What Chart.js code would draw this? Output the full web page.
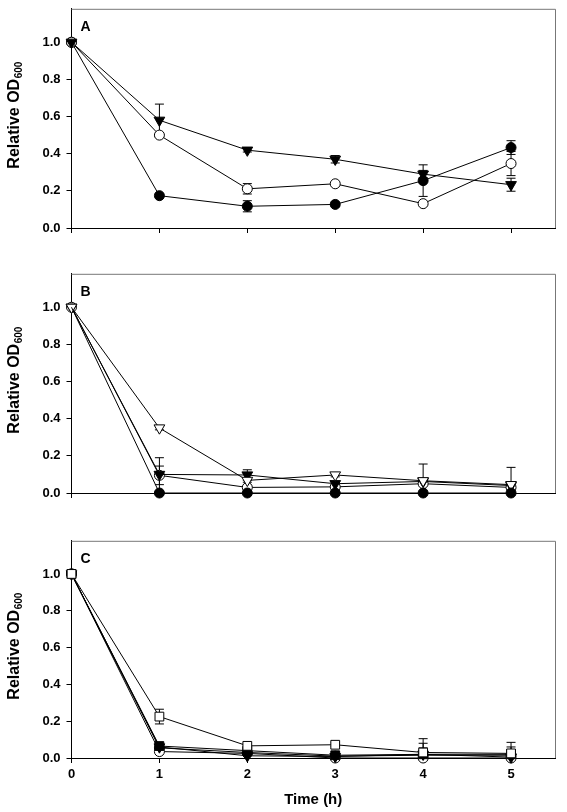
<!DOCTYPE html>
<html>
<head>
<meta charset="utf-8">
<script src="https://cdn.jsdelivr.net/npm/chart.js@4.4.0/dist/chart.umd.min.js"></script>
<style>
    html, body { margin: 0; padding: 0; background: #fff; overflow: hidden; }
    .panel { position: absolute; left: 0; width: 567px; }
</style>
</head>
<body>
<div class="panel" style="top:-5px;height:267px"><canvas id="chartA"></canvas></div>
<div class="panel" style="top:260px;height:275px"><canvas id="chartB"></canvas></div>
<div class="panel" style="top:527px;height:285px"><canvas id="chartC"></canvas></div>
<script>
// ===== DATA =====
var hours = [0, 1, 2, 3, 4, 5];
var xTicks = [0, 1, 2, 3, 4, 5];
var yTicks = [0, 0.2, 0.4, 0.6, 0.8, 1.0];

// Panel A
var aFilledCircle = [1.0, 0.174, 0.117, 0.127, 0.255, 0.433];
var aFilledCircleErr = [0, 0.01, 0.03, 0.012, 0.085, 0.037];
var aOpenCircle = [1.0, 0.50, 0.211, 0.238, 0.131, 0.347];
var aOpenCircleErr = [0, 0.01, 0.028, 0.006, 0.01, 0.065];
var aFilledTriangle = [1.0, 0.58, 0.419, 0.37, 0.29, 0.233];
var aFilledTriangleErr = [0, 0.087, 0.01, 0.02, 0.02, 0.035];

// Panel B
var bFilledCircle = [1.0, 0, 0, 0, 0, 0];
var bFilledCircleErr = [0, 0, 0, 0, 0, 0];
var bOpenCircle = [1.0, 0.095, 0.03, 0.033, 0.05, 0.03];
var bOpenCircleErr = [0, 0.05, 0.01, 0.01, 0.01, 0.01];
var bFilledTriangle = [1.0, 0.1, 0.097, 0.05, 0.062, 0.04];
var bFilledTriangleErr = [0, 0.09, 0.028, 0.01, 0.01, 0.01];
var bOpenTriangle = [1.0, 0.35, 0.068, 0.097, 0.066, 0.045];
var bOpenTriangleErr = [0, 0.01, 0.01, 0.01, 0.09, 0.093];

// Panel C
var cFilledCircle = [1.0, 0.055, 0.03, 0.01, 0.015, 0.015];
var cFilledCircleErr = [0, 0, 0, 0, 0.04, 0.03];
var cOpenCircle = [1.0, 0.035, 0.025, 0.0, 0.0, 0.0];
var cOpenCircleErr = [0, 0, 0, 0, 0, 0];
var cFilledTriangle = [1.0, 0.06, 0.012, 0.008, 0.02, 0.005];
var cFilledTriangleErr = [0, 0, 0, 0, 0, 0];
var cFilledSquare = [1.0, 0.065, 0.04, 0.015, 0.02, 0.02];
var cFilledSquareErr = [0, 0.005, 0.01, 0.005, 0.06, 0.04];
var cOpenSquare = [1.0, 0.225, 0.066, 0.072, 0.03, 0.025];
var cOpenSquareErr = [0, 0.04, 0.01, 0.01, 0.075, 0.06];

var FONT = 'Arial, "Liberation Sans", sans-serif';

// ===== HELPERS =====
// idx sets draw order (higher = on top); hideFirst drops the t=0 symbol
function makeSet(values, errs, shape, filled, idx, hideFirst) {
    var isTri = shape === 'triangle';
    var r = shape === 'circle' ? 5 : 6.2;
    return {
        data: hours.map(function(h, i) { return { x: h, y: values[i] }; }),
        errors: errs,
        order: -idx,
        clip: false,
        showLine: true,
        borderColor: '#000',
        borderWidth: 1,
        tension: 0,
        pointStyle: shape,
        pointRotation: isTri ? 180 : 0,
        pointRadius: hideFirst ? hours.map(function(h, i) { return i === 0 ? 0 : r; }) : r,
        pointBorderColor: '#000',
        pointBorderWidth: 1,
        pointBackgroundColor: filled ? '#000' : '#fff'
    };
}

// error bars drawn under the symbols
var errorBarPlugin = {
    id: 'errorBars',
    beforeDatasetsDraw: function(chart) {
        var ctx = chart.ctx;
        var yScale = chart.scales.y;
        ctx.save();
        ctx.strokeStyle = '#000';
        ctx.lineWidth = 1;
        chart.data.datasets.forEach(function(ds, i) {
            var meta = chart.getDatasetMeta(i);
            meta.data.forEach(function(pt, j) {
                var e = ds.errors[j];
                if (!e) return;
                var v = ds.data[j].y;
                var yt = yScale.getPixelForValue(v + e);
                var yb = yScale.getPixelForValue(Math.max(0, v - e));
                ctx.beginPath();
                ctx.moveTo(pt.x, yt); ctx.lineTo(pt.x, yb);
                ctx.moveTo(pt.x - 4.5, yt); ctx.lineTo(pt.x + 4.5, yt);
                ctx.moveTo(pt.x - 4.5, yb); ctx.lineTo(pt.x + 4.5, yb);
                ctx.stroke();
            });
        });
        ctx.restore();
    }
};

// top/right frame, panel letter and y title with subscript
var framePlugin = {
    id: 'frame',
    afterDraw: function(chart, args, opts) {
        var ctx = chart.ctx;
        var a = chart.chartArea;
        ctx.save();
        ctx.strokeStyle = '#777';
        ctx.lineWidth = 1;
        ctx.beginPath();
        ctx.moveTo(a.left, a.top + 0.5);
        ctx.lineTo(a.right + 0.5, a.top + 0.5);
        ctx.lineTo(a.right + 0.5, a.bottom);
        ctx.stroke();

        ctx.fillStyle = '#000';
        ctx.font = 'bold 14px ' + FONT;
        ctx.textBaseline = 'alphabetic';
        ctx.fillText(opts.letter, a.left + 9, a.top + 22);

        // rotated y title
        var cy = (a.top + a.bottom) / 2 - 3;
        ctx.translate(19, cy);
        ctx.rotate(-Math.PI / 2);
        ctx.font = 'bold 16px ' + FONT;
        var main = 'Relative OD';
        var mw = ctx.measureText(main).width;
        ctx.font = 'bold 10px ' + FONT;
        var sw = ctx.measureText('600').width;
        var start = -(mw + sw) / 2;
        ctx.font = 'bold 16px ' + FONT;
        ctx.fillText(main, start, 0);
        ctx.font = 'bold 10px ' + FONT;
        ctx.fillText('600', start + mw + 0.5, 3);
        ctx.restore();
    }
};

function makeChart(id, letter, sets, xHeight, showX) {
    return new Chart(document.getElementById(id), {
        type: 'scatter',
        data: { datasets: sets },
        plugins: [errorBarPlugin, framePlugin],
        options: {
            responsive: true,
            maintainAspectRatio: false,
            animation: false,
            layout: { padding: { top: 0, right: 12, left: 0, bottom: 0 } },
            plugins: {
                legend: { display: false },
                tooltip: { enabled: false },
                frame: { letter: letter }
            },
            scales: {
                x: {
                    type: 'linear',
                    min: 0,
                    max: 5.5,
                    afterBuildTicks: function(s) { s.ticks = xTicks.map(function(v) { return { value: v }; }); },
                    afterFit: function(s) { s.height = xHeight; },
                    grid: { drawOnChartArea: false, tickLength: 5, color: '#000' },
                    border: { color: '#000', width: 1 },
                    ticks: {
                        display: showX,
                        color: '#000',
                        padding: 4,
                        font: { family: FONT, size: 13, weight: 'bold' },
                        callback: function(v) { return String(v); }
                    },
                    title: {
                        display: showX,
                        text: 'Time (h)',
                        color: '#000',
                        padding: { top: 0, bottom: 3 },
                        font: { family: FONT, size: 15, weight: 'bold' }
                    }
                },
                y: {
                    min: 0,
                    max: 1.18,
                    afterBuildTicks: function(s) { s.ticks = yTicks.map(function(v) { return { value: v }; }); },
                    afterFit: function(s) { s.width = 71.5; },
                    grid: { drawOnChartArea: false, tickLength: 5, color: '#000' },
                    border: { color: '#000', width: 1 },
                    ticks: {
                        color: '#000',
                        padding: 6,
                        font: { family: FONT, size: 13, weight: 'bold' },
                        callback: function(v) { return Number(v).toFixed(1); }
                    }
                }
            }
        }
    });
}

// ===== INIT =====
makeChart('chartA', 'A', [
    makeSet(aFilledCircle, aFilledCircleErr, 'circle', true, 0),
    makeSet(aOpenCircle, aOpenCircleErr, 'circle', false, 1),
    makeSet(aFilledTriangle, aFilledTriangleErr, 'triangle', true, 2)
], 34, false);

makeChart('chartB', 'B', [
    makeSet(bFilledCircle, bFilledCircleErr, 'circle', true, 10, true),
    makeSet(bOpenCircle, bOpenCircleErr, 'circle', false, 1),
    makeSet(bFilledTriangle, bFilledTriangleErr, 'triangle', true, 2),
    makeSet(bOpenTriangle, bOpenTriangleErr, 'triangle', false, 3)
], 42, false);

makeChart('chartC', 'C', [
    makeSet(cFilledCircle, cFilledCircleErr, 'circle', true, 0),
    makeSet(cOpenCircle, cOpenCircleErr, 'circle', false, 1),
    makeSet(cFilledTriangle, cFilledTriangleErr, 'triangle', true, 2),
    makeSet(cFilledSquare, cFilledSquareErr, 'rect', true, 3),
    makeSet(cOpenSquare, cOpenSquareErr, 'rect', false, 4)
], 54, true);
</script>
</body>
</html>
